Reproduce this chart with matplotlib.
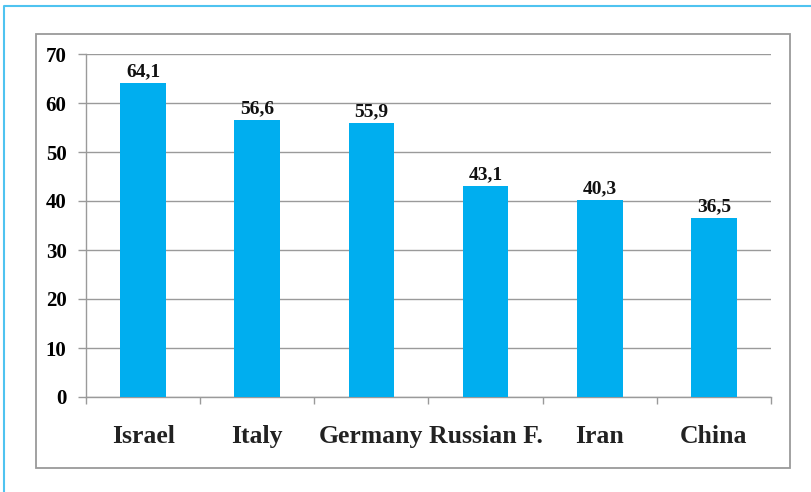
import matplotlib
matplotlib.use("Agg")
import matplotlib.pyplot as plt
from matplotlib.patches import Rectangle
from matplotlib.lines import Line2D

# data
countries = ["Israel", "Italy", "Germany", "Russian F.", "Iran", "China"]
values = [64.1, 56.6, 55.9, 43.1, 40.3, 36.5]
yticks = [0, 10, 20, 30, 40, 50, 60, 70]

W, H = 812, 492
fig = plt.figure(figsize=(W / 100, H / 100), dpi=100)
plt.rcParams['font.family'] = ['Liberation Serif', 'DejaVu Serif']

# outer frames (pixel coords -> figure fraction)
def fx(px):
    return px / W

def fy(py):
    return 1 - py / H

fig.add_artist(Line2D([fx(4), fx(4), 1.0], [0.0, fy(6), fy(6)],
                      color="#4fc3f0", lw=1.5, transform=fig.transFigure))
fig.add_artist(Rectangle((fx(36), fy(468)), fx(790) - fx(36), fy(34) - fy(468),
                         fill=False, edgecolor="#9a9a9a", lw=1.3,
                         transform=fig.transFigure))

ax = fig.add_axes([fx(86), fy(397), fx(771) - fx(86), fy(54) - fy(397)])
x = range(len(countries))
ax.bar(x, values, width=0.4, color="#00aeef", zorder=3)

for xi, v in zip(x, values):
    ax.annotate(f"{v:.1f}".replace(".", ","), (xi, v), xytext=(0, 2),
                textcoords="offset points", ha="center", va="bottom",
                fontsize=14, fontweight="bold", color="#111111")

ax.set_ylim(0, 70)
ax.set_xlim(-0.5, len(countries) - 0.5)
ax.set_yticks(yticks)
ax.set_yticklabels([str(t) for t in yticks], fontsize=15, fontweight="bold")
ax.yaxis.grid(True, color="#9a9a9a", lw=1.0, zorder=0)

ax.set_xticks(list(x))
ax.set_xticklabels(countries, fontsize=18.5, fontweight="bold", color="#222222")
ax.tick_params(axis="x", length=0, pad=20)
ax.set_xticks([i - 0.5 for i in range(len(countries) + 1)], minor=True)
ax.tick_params(axis="x", which="minor", length=5, color="#9a9a9a", width=1)
ax.tick_params(axis="y", length=6, color="#9a9a9a", width=1, pad=8)

for s in ["top", "right"]:
    ax.spines[s].set_visible(False)
for s in ["left", "bottom"]:
    ax.spines[s].set_color("#9a9a9a")
    ax.spines[s].set_linewidth(1.0)

fig.savefig("out.png", dpi=100)
